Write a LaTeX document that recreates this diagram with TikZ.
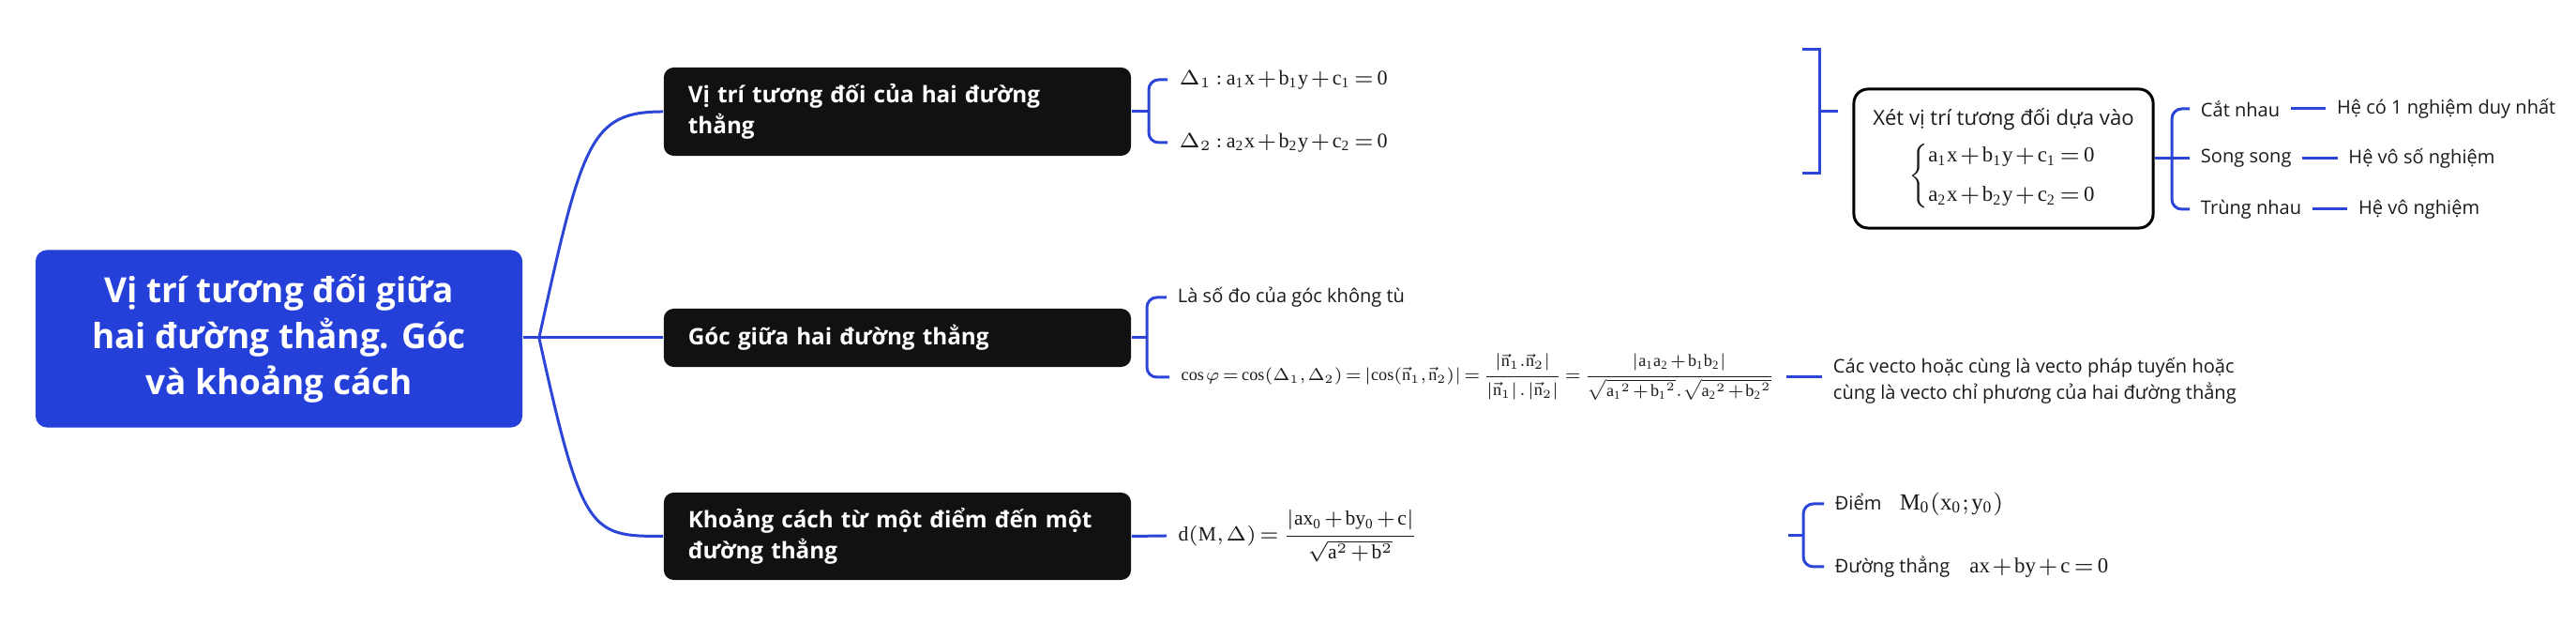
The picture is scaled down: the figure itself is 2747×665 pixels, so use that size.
\documentclass[tikz,border=0pt]{standalone}
\usepackage{fix-cm}
\usepackage{amsmath}
\usepackage{graphicx}
\usepackage{fontspec}
\setmainfont{Liberation Serif}
\newfontfamily\uifont{Open Sans}
\usetikzlibrary{positioning}

\definecolor{azul}{HTML}{2540D9}
\definecolor{linha}{HTML}{2B45D6}
\definecolor{preto}{HTML}{111111}
\definecolor{texto}{HTML}{1A1A1A}

% espacos mais curtos nas formulas
\newcommand{\justo}{\medmuskip=1.5mu\relax\thickmuskip=2.5mu\relax\thinmuskip=1.5mu\relax}

\tikzset{
  raiz/.style={fill=azul, rounded corners=3.5pt, text=white, align=center,
    font=\uifont\bfseries\fontsize{10.5}{14}\selectfont,
    minimum width=5.19cm, minimum height=1.89cm},
  ramo/.style={fill=preto, rounded corners=3pt, text=white, align=left,
    text width=4.46cm, inner xsep=0.26cm,
    font=\uifont\bfseries\fontsize{6.9}{9.2}\selectfont},
  folha/.style={anchor=west, inner xsep=3.2pt, inner ysep=1pt, text=texto,
    font=\uifont\fontsize{5.7}{8}\selectfont\justo},
  eq/.style={anchor=west, inner xsep=3.4pt, inner ysep=1pt, text=texto,
    font=\fontsize{6.3}{8}\selectfont\justo},
  quadro/.style={draw=black, line width=0.85pt, rounded corners=4.3pt,
    minimum width=3.19cm, minimum height=1.48cm, align=center, text=texto,
    font=\uifont\fontsize{6.3}{8}\selectfont\justo},
  liga/.style={draw=linha, line width=0.85pt},
  chave/.style={liga, rounded corners=3pt},
}

\begin{document}
\begin{tikzpicture}[x=0.01cm, y=-0.01cm]
  \useasboundingbox (0,0) rectangle (2747,665);

  % No central
  \node[raiz] (raiz) at (297.5,361) {Vị trí tương đối giữa\\hai đường thẳng. Góc\\và khoảng cách};

  % Ramos
  \node[ramo, minimum height=0.94cm] (pos) at (957,119) {Vị trí tương đối của hai đường\\thẳng};
  \node[ramo, minimum height=0.62cm] (goc) at (957,360) {Góc giữa hai đường thẳng};
  \node[ramo, minimum height=0.93cm] (kc) at (957,571.5) {Khoảng cách từ một điểm đến một\\đường thẳng};

  \draw[liga] (raiz.east |- goc.west) -- ++(17,0) coordinate (r0);
  \draw[liga] (r0) .. controls +(46,-209) and +(-78,0) .. (pos.west);
  \draw[liga] (r0) -- (goc.west);
  \draw[liga] (r0) .. controls +(46,209) and +(-78,0) .. (kc.west);

  % Posicao relativa
  \coordinate (b1) at (1225,119);
  \node[eq] (d1) at (1245,85) {$\Delta_1 : \mathrm{a_1x + b_1y + c_1 = 0}$};
  \node[eq] (d2) at (1245,152) {$\Delta_2 : \mathrm{a_2x + b_2y + c_2 = 0}$};
  \draw[liga] (pos.east) -- (b1);
  \draw[chave] (d1.west) -| (b1) |- (d2.west);

  % Resumo
  \coordinate (rs) at (1940,119);
  \draw[liga] (1922,53) -| (rs) |- (1922,185);
  \draw[liga] (rs) -- ++(20,0);
  \node[quadro] (xet) at (2136.5,169) {Xét vị trí tương đối dựa vào\\[3pt]
    {\fontsize{6.5}{8}\selectfont$\left\{\begin{array}{@{}l@{}}
      \mathrm{a_1x + b_1y + c_1 = 0}\\[4pt]
      \mathrm{a_2x + b_2y + c_2 = 0}
    \end{array}\right.$}};

  % Casos
  \coordinate (b2) at (2316,169);
  \node[folha] (c1) at (2335,116) {Cắt nhau};
  \node[folha] (c2) at (2335,169) {Song song};
  \node[folha] (c3) at (2335,223) {Trùng nhau};
  \node[folha, right=0.37cm of c1] (h1) {Hệ có 1 nghiệm duy nhất};
  \node[folha, right=0.37cm of c2] (h2) {Hệ vô số nghiệm};
  \node[folha, right=0.37cm of c3] (h3) {Hệ vô nghiệm};
  \draw[liga] (xet.east) -- (b2) -- (c2.west);
  \draw[chave] (c1.west) -| (b2) |- (c3.west);
  \foreach \a/\b in {c1/h1, c2/h2, c3/h3}
    \draw[liga] (\a.east) -- (\b.west);

  % Goc
  \coordinate (b3) at (1223,360);
  \node[folha] (l1) at (1244,317) {Là số đo của góc không tù};
  \node[eq] (cosf) at (1247,402) {\resizebox{6.32cm}{!}{$\cos\varphi = \cos(\Delta_1,\Delta_2)
    = \left|\cos(\vec{\mathrm{n}}_1,\vec{\mathrm{n}}_2)\right|
    = \dfrac{\left|\vec{\mathrm{n}}_1.\vec{\mathrm{n}}_2\right|}
            {\left|\vec{\mathrm{n}}_1\right|.\left|\vec{\mathrm{n}}_2\right|}
    = \dfrac{\left|\mathrm{a_1a_2 + b_1b_2}\right|}
            {\sqrt{\mathrm{a_1}^2 + \mathrm{b_1}^2}.\sqrt{\mathrm{a_2}^2 + \mathrm{b_2}^2}}$}};
  \node[folha, align=left] (vec) at (1943,406) {Các vecto hoặc cùng là vecto pháp tuyến hoặc\\cùng là vecto chỉ phương của hai đường thẳng};
  \draw[liga] (goc.east) -- (b3);
  \draw[chave] (l1.west) -| (b3) |- (cosf.west);
  \draw[liga] (cosf.east) -- (cosf.east -| vec.west);

  % Khoang cach
  \node[eq, font=\fontsize{6.15}{8}\selectfont\justo] (dist) at (1244,571) {$\mathrm{d}(\mathrm{M},\Delta) = \dfrac{\left|\mathrm{ax_0 + by_0 + c}\right|}{\sqrt{\mathrm{a}^2 + \mathrm{b}^2}}$};
  \draw[liga] (kc.east) -- (dist.west);
  \coordinate (b4) at (1923,571);
  \node[folha] (p1) at (1945,537) {Điểm\hspace{5.5pt}{\fontsize{7}{8}\selectfont$\mathrm{M_0(x_0;y_0)}$}};
  \node[folha] (p2) at (1945,604) {Đường thẳng\hspace{6pt}{\fontsize{6.5}{8}\selectfont$\mathrm{ax + by + c = 0}$}};
  \draw[liga] (1907,571) -- (b4);
  \draw[chave] (p1.west) -| (b4) |- (p2.west);
\end{tikzpicture}
\end{document}
